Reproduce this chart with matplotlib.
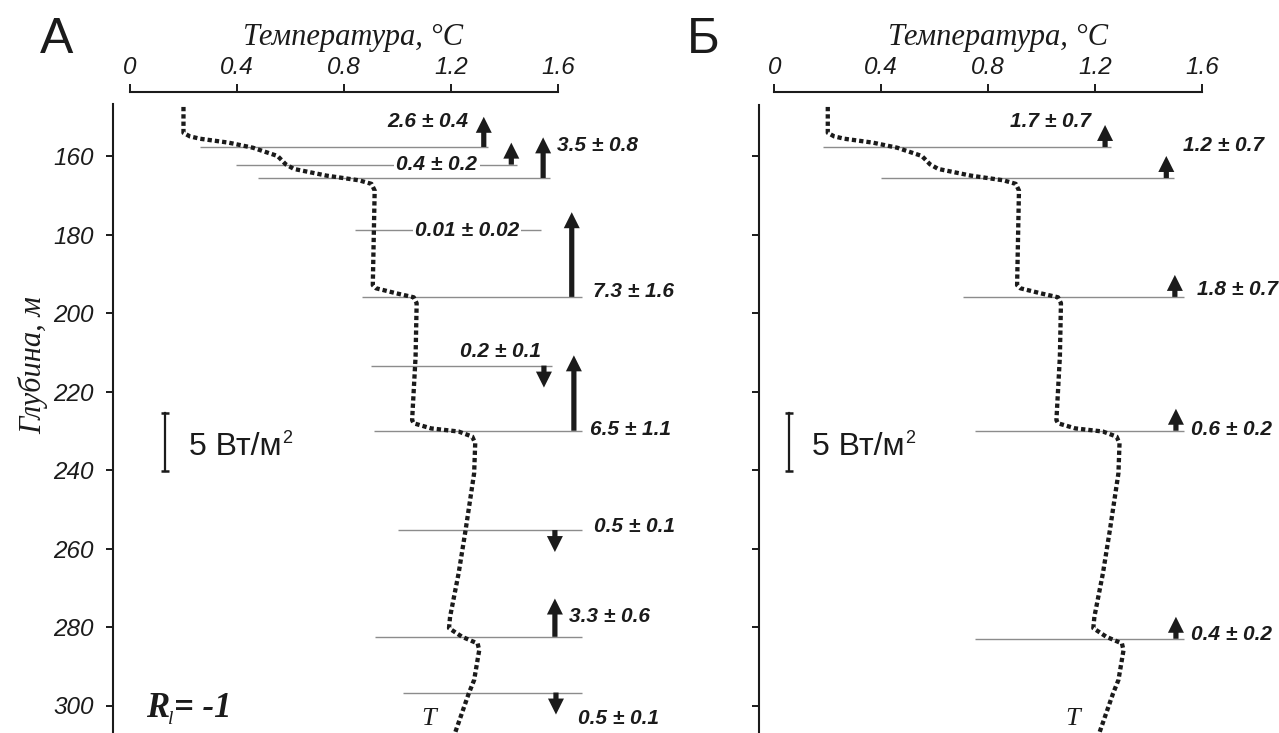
import matplotlib
matplotlib.use("Agg")
import matplotlib.pyplot as plt
from matplotlib.patches import FancyArrow

W, H, DPI = 1279, 733, 100

# ---------------- data ----------------
# temperature profile (same in both panels)
temp_T = [0.200, 0.200, 0.224, 0.262, 0.369, 0.460, 0.552, 0.582, 0.613, 0.735,
          0.857, 0.903, 0.915, 0.908, 0.920, 0.997, 1.061, 1.072, 1.068, 1.055,
          1.061, 1.126, 1.229, 1.280, 1.291, 1.287, 1.255, 1.229, 1.197, 1.193,
          1.242, 1.300, 1.306, 1.287, 1.267, 1.216]
temp_depth = [147.5, 154.1, 155.0, 155.6, 156.6, 157.9, 160.0, 162.1, 163.3, 165.0,
              166.2, 167.1, 168.8, 192.9, 193.7, 195.0, 196.0, 197.5, 211.1, 227.3,
              228.1, 229.4, 230.2, 231.5, 233.2, 240.8, 255.3, 266.3, 277.4, 280.3,
              282.5, 284.2, 285.9, 293.5, 296.9, 306.9]

x_ticks = [0, 0.4, 0.8, 1.2, 1.6]
x_ticklabels = ["0", "0.4", "0.8", "1.2", "1.6"]
y_ticks = [160, 180, 200, 220, 240, 260, 280, 300]

# panel A: interface depths, line extents, heat flux (+ up, - down), errors
a_depth = [157.7, 162.2, 165.6, 178.9, 195.9, 213.4, 230.0, 255.3, 282.5, 296.7]
a_start = [0.262, 0.396, 0.479, 0.840, 0.868, 0.900, 0.912, 1.002, 0.916, 1.022]
a_end = [1.338, 1.449, 1.571, 1.536, 1.690, 1.577, 1.690, 1.690, 1.690, 1.690]
a_flux = [2.6, 0.4, 3.5, 0.01, 7.3, -0.2, 6.5, -0.5, 3.3, -0.5]
a_err = [0.4, 0.2, 0.8, 0.02, 1.6, 0.1, 1.1, 0.1, 0.6, 0.1]

# panel B
b_depth = [157.7, 165.6, 195.9, 230.0, 283.0]
b_start = [0.182, 0.398, 0.707, 0.750, 0.750]
b_end = [1.260, 1.494, 1.532, 1.532, 1.532]
b_flux = [1.7, 1.2, 1.8, 0.6, 0.4]
b_err = [0.7, 0.7, 0.7, 0.2, 0.2]

# ---------------- layout (not data) ----------------
a_arrow_T = [1.323, 1.426, 1.545, None, 1.652, 1.548, 1.660, 1.589, 1.589, 1.593]
a_lab = [(1.266, 151.1, "right", False), (1.148, 162.2, "center", True),
         (1.597, 157.45, "left", False), (1.260, 178.9, "center", True),
         (1.731, 194.4, "left", False), (1.384, 209.9, "center", False),
         (1.719, 229.8, "left", False), (1.735, 254.5, "left", False),
         (1.640, 277.4, "left", False), (1.674, 303.2, "left", False)]
b_arrow_T = [1.237, 1.466, 1.498, 1.502, 1.502]
b_lab = [(1.184, 151.1, "right", False), (1.527, 157.45, "left", False),
         (1.580, 194.1, "left", False), (1.560, 229.8, "left", False),
         (1.560, 282.0, "left", False)]

PX_T = 267.4          # px per degree
PX_M = 3.925          # px per metre
Y_TOP = 92            # px of top spine
D_TOP = 160 - (156 - Y_TOP) / PX_M
D_BOT = 160 + (H - 156) / PX_M
FLUX_SCALE = 14.78 / 5.0   # metres of depth per W/m2
MIN_ARROW_PX = 22

INK = "#1b1b1b"
SANS = "Liberation Sans"
SERIF = "Liberation Serif"

fig = plt.figure(figsize=(W / DPI, H / DPI), dpi=DPI)
renderer = fig.canvas.get_renderer()


def ftext(x, y, s, **kw):
    return fig.text(x / W, 1 - y / H, s, **kw)


def make_panel(left_px, t0_px, spine_top_px, show_ylabels):
    xmin = -(t0_px - left_px) / PX_T
    xmax = 2.2
    wpx = (xmax - xmin) * PX_T
    ax = fig.add_axes([left_px / W, 0, wpx / W, (H - Y_TOP) / H])
    ax.set_xlim(xmin, xmax)
    ax.set_ylim(D_BOT, D_TOP)
    ax.patch.set_visible(False)
    for s in ("right", "bottom"):
        ax.spines[s].set_visible(False)
    for s in ("top", "left"):
        ax.spines[s].set_linewidth(1.5)
        ax.spines[s].set_color(INK)
    ax.spines["top"].set_bounds(0, 1.6)
    ax.spines["left"].set_bounds(160 + (spine_top_px - 156) / PX_M, D_BOT)
    ax.xaxis.tick_top()
    ax.set_xticks(x_ticks)
    ax.set_xticklabels(x_ticklabels, fontfamily=SANS, fontstyle="italic",
                       fontsize=17.5, color=INK)
    ax.tick_params(axis="x", direction="out", length=5.8, width=1.4,
                   pad=3.5, colors=INK)
    ax.set_yticks(y_ticks)
    if show_ylabels:
        ax.set_yticklabels([str(v) for v in y_ticks], fontfamily=SANS,
                           fontstyle="italic", fontsize=17.5, color=INK)
    else:
        ax.set_yticklabels([])
    ax.tick_params(axis="y", direction="out", length=5, width=1.4, pad=9,
                   colors=INK)
    return ax


def draw_panel(ax, depth, start, end, flux, err, arrow_T, labs, bar_T, bar_text_T):
    ax.plot(temp_T, temp_depth, color=INK, lw=3.1, linestyle=(0, (1, 0.7)),
            dash_capstyle="butt", zorder=6, clip_on=False)
    ax.hlines(depth, start, end, color="#8c8c8c", lw=1.0, zorder=2)
    m_per_px = 1 / PX_M
    for d, v, xa in zip(depth, flux, arrow_T):
        if xa is None or abs(v) < 0.05:
            continue
        L = max(abs(v) * FLUX_SCALE, MIN_ARROW_PX * m_per_px)
        hl = min(16 * m_per_px, 0.75 * L)
        dy = -L if v > 0 else L
        ax.add_patch(FancyArrow(xa, d, 0, dy, width=5.2 / PX_T,
                                head_width=16 / PX_T, head_length=hl,
                                length_includes_head=True, color=INK, lw=0,
                                zorder=4, clip_on=False))
    for (tx, ty, ha, online), v, e in zip(labs, flux, err):
        s = f"{abs(v):g} ± {e:g}"
        kw = dict(ha=ha, va="center", fontfamily=SANS, fontstyle="italic",
                  fontweight="bold", fontsize=15, color=INK, zorder=5,
                  clip_on=False)
        if online:
            kw["bbox"] = dict(facecolor="white", edgecolor="none", pad=1.5)
        ax.text(tx, ty, s, **kw)
    # scale bar 5 W/m2
    d0 = 225.4
    d1 = d0 + 5 * FLUX_SCALE
    ax.plot([bar_T, bar_T], [d0, d1], color=INK, lw=1.6, clip_on=False)
    ax.plot([bar_T, bar_T], [d0, d1], color=INK, lw=0, marker="_",
            markersize=6, markeredgewidth=1.8, clip_on=False)
    t = ax.text(bar_text_T, 236.2, "5 Вт/м", ha="left", va="baseline",
                fontfamily=SANS, fontsize=23, color=INK)
    bb = t.get_window_extent(renderer)
    ftext(bb.x1 + 0.5, 443, "2", ha="left", va="baseline", fontfamily=SANS,
          fontsize=13, color=INK)
    ax.text(temp_T[-1] - 0.10, 303.4, "T", ha="center", va="center",
            fontfamily=SERIF, fontstyle="italic", fontsize=19, color=INK)


axA = make_panel(113.3, 130.0, 103.5, True)
axB = make_panel(759.0, 774.3, 105.0, False)

draw_panel(axA, a_depth, a_start, a_end, a_flux, a_err, a_arrow_T, a_lab,
           (165 - 130) / PX_T, (189 - 130) / PX_T)
draw_panel(axB, b_depth, b_start, b_end, b_flux, b_err, b_arrow_T, b_lab,
           (789.3 - 774.3) / PX_T, (812.4 - 774.3) / PX_T)

# titles, panel letters, axis label
for cx in (353, 998):
    ftext(cx, 37, "Температура, °C", ha="center", va="center", fontfamily=SERIF,
          fontstyle="italic", fontsize=22, color=INK)
ftext(57, 40, "А", ha="center", va="center", fontfamily=SANS, fontsize=36, color=INK)
ftext(703, 40, "Б", ha="center", va="center", fontfamily=SANS, fontsize=36, color=INK)
ftext(33, 365, "Глубина, м", ha="center", va="center", rotation=90,
      fontfamily=SERIF, fontstyle="italic", fontsize=22, color=INK)

# R_l = -1
t1 = ftext(146.5, 716.7, "R", ha="left", va="baseline", fontfamily=SERIF,
           fontstyle="italic", fontweight="bold", fontsize=25, color=INK)
b1 = t1.get_window_extent(renderer)
t2 = ftext(b1.x1 - 1.5, 724, "l", ha="left", va="baseline", fontfamily=SERIF,
           fontstyle="italic", fontsize=14, color=INK)
b2 = t2.get_window_extent(renderer)
ftext(b2.x1 + 0.5, 716.7, "= -1", ha="left", va="baseline", fontfamily=SERIF,
      fontstyle="italic", fontweight="bold", fontsize=25, color=INK)

fig.savefig("out.png", dpi=DPI, facecolor="white")
